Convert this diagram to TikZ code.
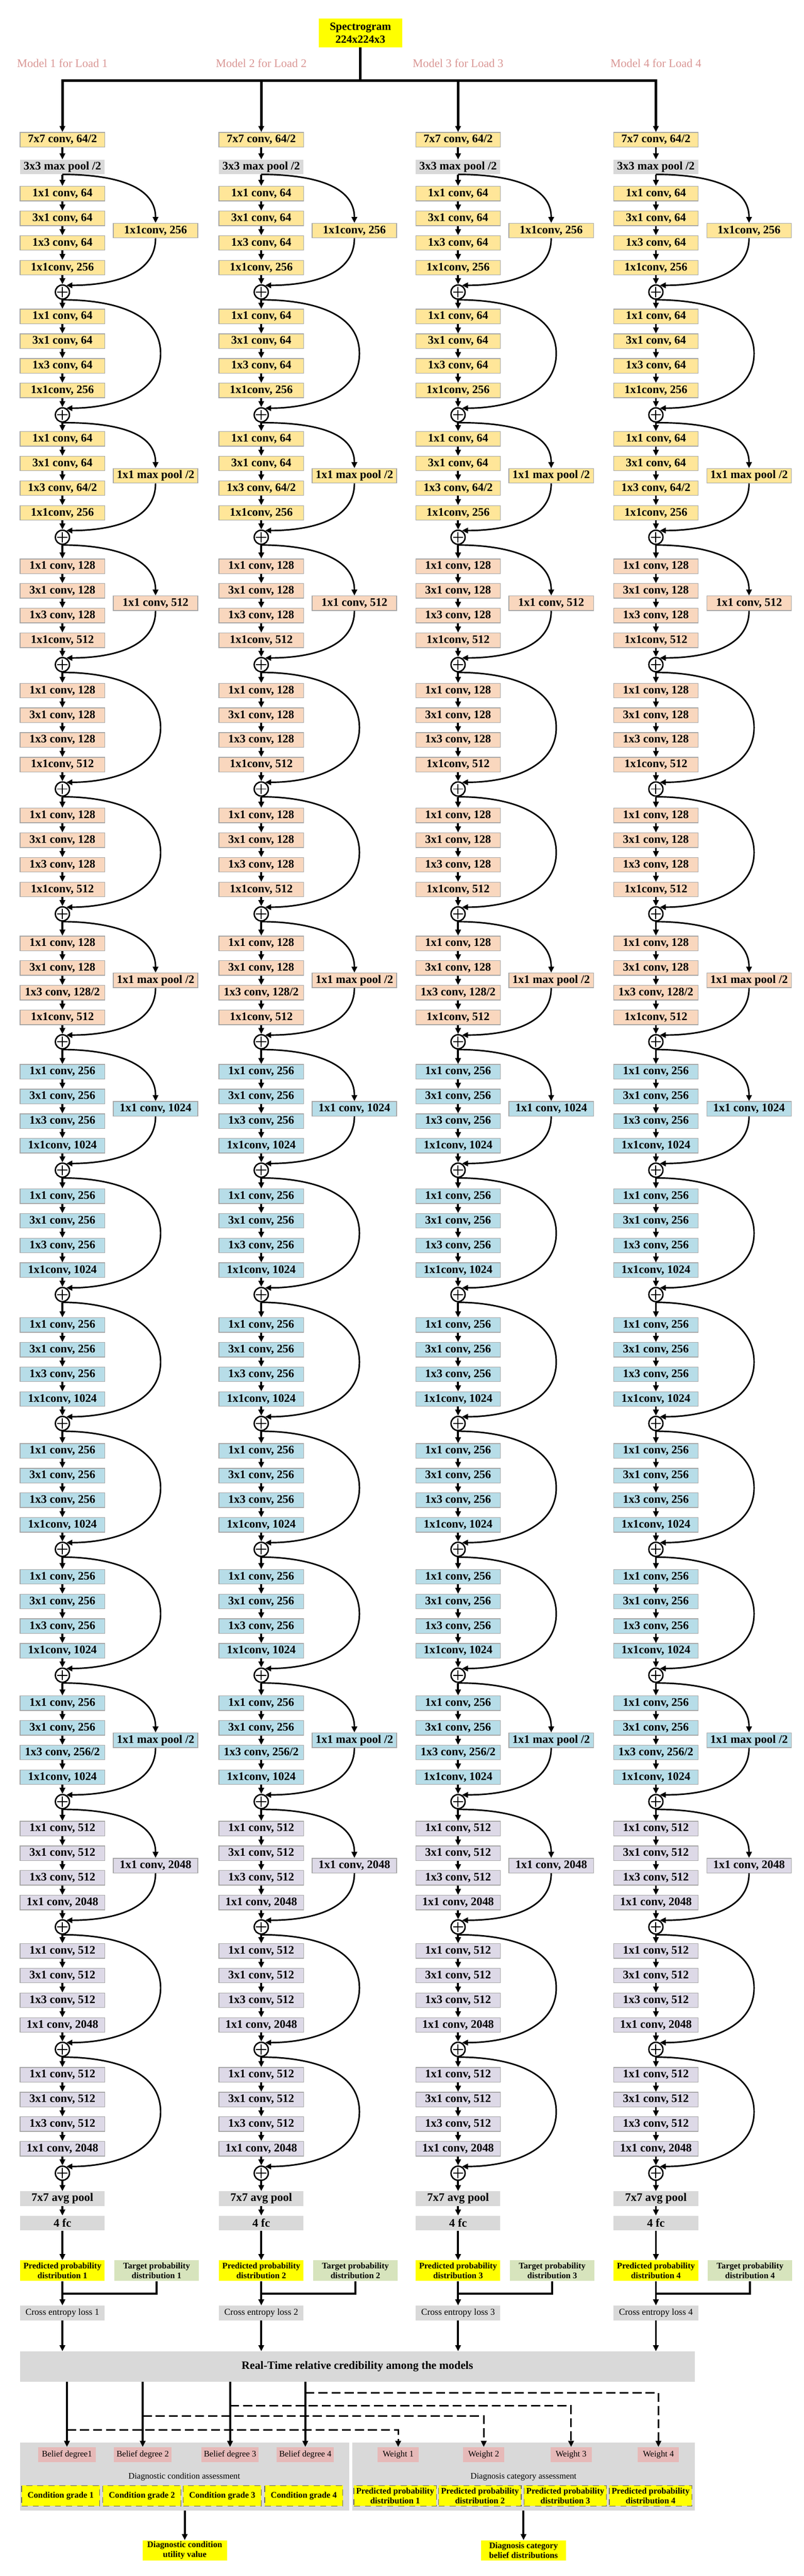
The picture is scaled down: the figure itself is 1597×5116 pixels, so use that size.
\documentclass[tikz,border=0pt]{standalone}
\usepackage{fontspec}
\setmainfont{Liberation Serif}
\usetikzlibrary{arrows.meta}
\definecolor{stga}{HTML}{FFE699}
\definecolor{stgb}{HTML}{F9D7BE}
\definecolor{stgc}{HTML}{B7DDE8}
\definecolor{stgd}{HTML}{DDD9E7}
\definecolor{gry}{HTML}{D9D9D9}
\definecolor{ylw}{HTML}{FFFF00}
\definecolor{tgt}{HTML}{D7E4BD}
\definecolor{pnk}{HTML}{E6B9B8}
\definecolor{lbl}{HTML}{D99694}
\begin{document}
\begin{tikzpicture}
  [x=0.5pt, y=0.5pt,
  every node/.style={inner sep=0pt, align=center},
  cbox/.style={draw=black!35, line width=0.7pt, minimum width=84pt, minimum height=14.5pt,
    font=\fontsize{11.5}{13}\selectfont\bfseries},
  gbox/.style={fill=gry, minimum width=84pt, minimum height=14.5pt,
    font=\fontsize{11.5}{13}\selectfont\bfseries},
  addnode/.style={circle, draw, line width=1.4pt, minimum size=14pt, fill=white,
    path picture={\draw[line width=1pt]
      ([xshift=-5pt]path picture bounding box.center) -- ([xshift=5pt]path picture bounding box.center)
      ([yshift=-5pt]path picture bounding box.center) -- ([yshift=5pt]path picture bounding box.center);}},
  arr/.style={line width=2pt, -{Triangle[length=6pt,width=5.5pt]}},
  sccurve/.style={line width=1.5pt, -{Triangle[length=6pt,width=5.5pt]}},
  busline/.style={line width=2.5pt},
  ybox/.style={fill=ylw, minimum width=84pt, minimum height=20.5pt,
    font=\fontsize{8.5}{9.8}\selectfont\bfseries},
  tbox/.style={ybox, fill=tgt},
  cebox/.style={fill=gry, minimum width=84pt, minimum height=14.5pt, font=\fontsize{9}{10}\selectfont},
  pbox/.style={fill=pnk, minimum height=15pt, font=\fontsize{8.5}{10}\selectfont},
  dbox/.style={fill=ylw, draw=black!60, line width=0.6pt, dash pattern=on 6pt off 5pt,
    minimum height=20.5pt, font=\fontsize{8.5}{9.8}\selectfont\bfseries},
  grp/.style={fill=gry},
  dsh/.style={line width=1.5pt, dash pattern=on 9pt off 4pt, -{Triangle[length=6pt,width=5.5pt]}},
  ]
  \useasboundingbox (0,0) rectangle (1597,-5116);
  \node[ybox, minimum width=83pt, minimum height=28.5pt, font=\fontsize{11}{13}\selectfont\bfseries]
    (spec) at (716,-65.5) {Spectrogram\\224x224x3};
  \coordinate (hub) at (716,-160);
  \foreach \m/\cx in {1/124,2/519,3/910,4/1303}{
    \node[text=lbl, font=\fontsize{11.5}{13}\selectfont] (ml\m) at (\cx,-126) {Model \m{} for Load \m};
    \node[cbox, fill=stga] (cv\m) at (\cx,-277.5) {7x7 conv, 64/2};
    \node[gbox] (mp\m) at (\cx,-331.5) {3x3 max pool /2};
    \draw[arr] (cv\m) -- (mp\m);
    \coordinate (st\m) at (mp\m.south);
    \foreach \bk/\py/\fc/\ta/\tb/\tc/\td/\ty/\ts in {
      1/580/stga/{1x1 conv, 64}/{3x1 conv, 64}/{1x3 conv, 64}/{1x1conv, 256}/1/{1x1conv, 256},
      2/824/stga/{1x1 conv, 64}/{3x1 conv, 64}/{1x3 conv, 64}/{1x1conv, 256}/0/{},
      3/1067/stga/{1x1 conv, 64}/{3x1 conv, 64}/{1x3 conv, 64/2}/{1x1conv, 256}/1/{1x1 max pool /2},
      4/1320/stgb/{1x1 conv, 128}/{3x1 conv, 128}/{1x3 conv, 128}/{1x1conv, 512}/1/{1x1 conv, 512},
      5/1567/stgb/{1x1 conv, 128}/{3x1 conv, 128}/{1x3 conv, 128}/{1x1conv, 512}/0/{},
      6/1815/stgb/{1x1 conv, 128}/{3x1 conv, 128}/{1x3 conv, 128}/{1x1conv, 512}/0/{},
      7/2069/stgb/{1x1 conv, 128}/{3x1 conv, 128}/{1x3 conv, 128/2}/{1x1conv, 512}/1/{1x1 max pool /2},
      8/2324/stgc/{1x1 conv, 256}/{3x1 conv, 256}/{1x3 conv, 256}/{1x1conv, 1024}/1/{1x1 conv, 1024},
      9/2571/stgc/{1x1 conv, 256}/{3x1 conv, 256}/{1x3 conv, 256}/{1x1conv, 1024}/0/{},
      10/2827/stgc/{1x1 conv, 256}/{3x1 conv, 256}/{1x3 conv, 256}/{1x1conv, 1024}/0/{},
      11/3077/stgc/{1x1 conv, 256}/{3x1 conv, 256}/{1x3 conv, 256}/{1x1conv, 1024}/0/{},
      12/3327/stgc/{1x1 conv, 256}/{3x1 conv, 256}/{1x3 conv, 256}/{1x1conv, 1024}/0/{},
      13/3578/stgc/{1x1 conv, 256}/{3x1 conv, 256}/{1x3 conv, 256/2}/{1x1conv, 1024}/1/{1x1 max pool /2},
      14/3827/stgd/{1x1 conv, 512}/{3x1 conv, 512}/{1x3 conv, 512}/{1x1 conv, 2048}/1/{1x1 conv, 2048},
      15/4070/stgd/{1x1 conv, 512}/{3x1 conv, 512}/{1x3 conv, 512}/{1x1 conv, 2048}/0/{},
      16/4316/stgd/{1x1 conv, 512}/{3x1 conv, 512}/{1x3 conv, 512}/{1x1 conv, 2048}/0/{}}{
      \node[cbox, fill=\fc] (b\m-\bk-1) at (\cx,-\py+195.5) {\ta};
      \node[cbox, fill=\fc] (b\m-\bk-2) at (\cx,-\py+146.5) {\tb};
      \node[cbox, fill=\fc] (b\m-\bk-3) at (\cx,-\py+97.5) {\tc};
      \node[cbox, fill=\fc] (b\m-\bk-4) at (\cx,-\py+48.5) {\td};
      \node[addnode] (p\m-\bk) at (\cx,-\py) {};
      \draw[arr] (st\m) -- (b\m-\bk-1);
      \draw[arr] (b\m-\bk-1) -- (b\m-\bk-2);
      \draw[arr] (b\m-\bk-2) -- (b\m-\bk-3);
      \draw[arr] (b\m-\bk-3) -- (b\m-\bk-4);
      \draw[arr] (b\m-\bk-4) -- (p\m-\bk);
      \ifnum\ty=1
        \node[cbox, fill=\fc] (s\m-\bk) at (\cx+185,-\py+122) {\ts};
        \draw[sccurve] (st\m) to[out=0,in=90] (s\m-\bk.north);
        \draw[sccurve] (s\m-\bk.south) to[out=-90,in=0] (p\m-\bk.60);
      \else
        \coordinate (s\m-\bk) at (\cx+195,-\py+122);
        \draw[sccurve] (st\m) to[out=0,in=90] (s\m-\bk) to[out=-90,in=0] (p\m-\bk.60);
      \fi
      \coordinate (st\m) at (p\m-\bk.south);
    }
    \node[gbox] (ap\m) at (\cx,-4366.5) {7x7 avg pool};
    \node[gbox] (fc\m) at (\cx,-4415) {4 fc};
    \node[ybox] (pd\m) at (\cx,-4509.5) {Predicted probability\\distribution \m};
    \node[tbox] (tg\m) at (\cx+187,-4509.5) {Target probability\\distribution \m};
    \node[cebox] (ce\m) at (\cx,-4593.5) {Cross entropy loss \m};
    \coordinate (jn\m) at (\cx,-4555);
    \draw[arr] (st\m) -- (ap\m);
    \draw[arr] (ap\m) -- (fc\m);
    \draw[arr] (fc\m) -- (pd\m);
    \draw[arr] (pd\m) -- (ce\m);
    \draw[line width=2pt] (tg\m.south) |- (jn\m);
  }
  \draw[busline] (spec) -- (hub);
  \draw[busline, line cap=rect] (hub -| cv1) -- (hub -| cv4);
  \foreach \m in {1,...,4}
    \draw[busline, -{Triangle[length=6pt,width=5.5pt]}] (hub -| cv\m) -- (cv\m);

  \node[gbox, minimum width=670pt, minimum height=30pt, font=\fontsize{11.2}{13}\selectfont\bfseries]
    (rt) at (710,-4700) {Real-Time relative credibility among the models};
  \foreach \m in {1,...,4}
    \draw[arr] (ce\m) -- (ce\m |- rt.north);
  \node[grp, minimum width=327pt, minimum height=67.5pt] (gl) at (367,-4918.5) {};
  \node[grp, minimum width=340pt, minimum height=67.5pt] (gr) at (1040,-4918.5) {};
  \node[font=\fontsize{8.5}{10}\selectfont] (glt) at (366,-4919) {Diagnostic condition assessment};
  \node[font=\fontsize{8.5}{10}\selectfont] (grt) at (1040,-4919) {Diagnosis category assessment};
  \foreach \i/\bx/\wx/\dy/\bt in {1/133/791/4826/{Belief degree1},2/283.5/961/4798/{Belief degree 2},
      3/457/1134.5/4778/{Belief degree 3},4/606.5/1308/4752/{Belief degree 4}}{
    \node[pbox, minimum width=57pt] (bd\i) at (\bx,-4875) {\bt};
    \node[pbox, minimum width=41pt] (w\i) at (\wx,-4875) {Weight \i};
    \draw[arr] (rt.south -| bd\i) -- (bd\i);
    \coordinate (dj\i) at (\bx,-\dy);
    \draw[dsh] (dj\i) -| (w\i.north);
  }
  \foreach \i/\gx/\px in {1/120.5/785,2/282/953.5,3/441.5/1123,4/603.5/1292.5}{
    \node[dbox, minimum width=77.5pt] (cg\i) at (\gx,-4956.5) {Condition grade \i};
    \node[dbox, minimum width=82pt] (pp\i) at (\px,-4956.5) {Predicted probability\\distribution \i};
  }
  \node[ybox, minimum height=20pt] (uv) at (367,-5065) {Diagnostic condition\\utility value};
  \node[ybox, minimum height=20pt] (bdist) at (1040,-5065) {Diagnosis category\\belief distributions};
  \draw[arr] (gl) -- (uv);
  \draw[arr] (gr) -- (bdist);
\end{tikzpicture}
\end{document}
